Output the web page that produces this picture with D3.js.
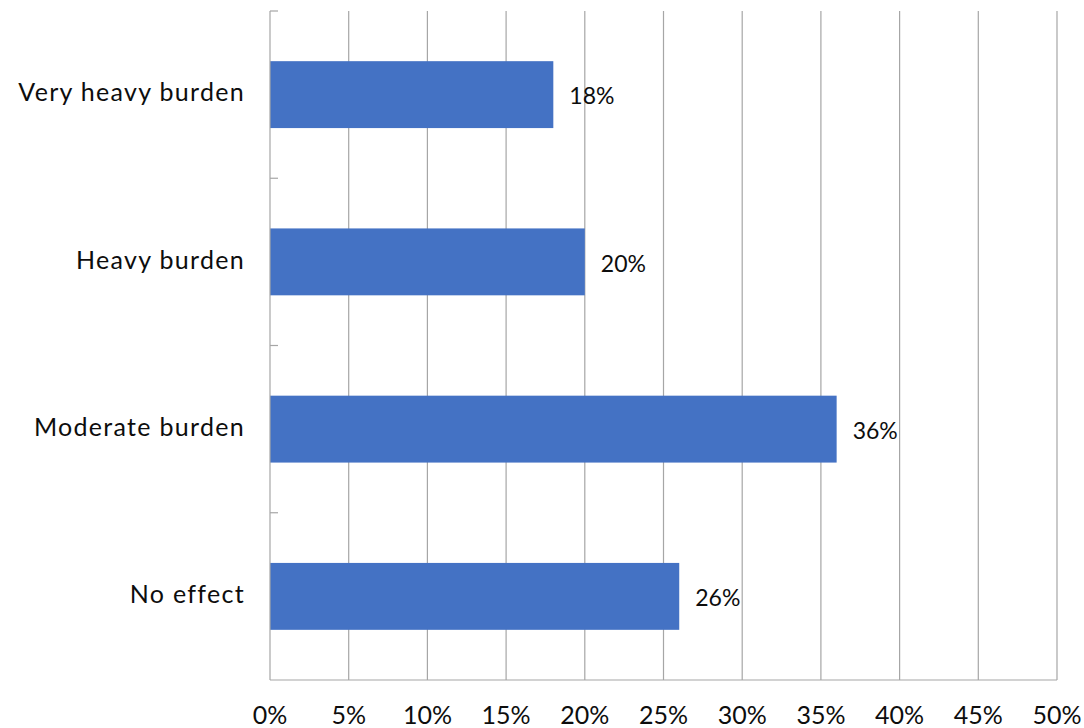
<!DOCTYPE html>
<html>
<head>
<meta charset="utf-8">
<script src="https://cdn.jsdelivr.net/npm/d3@7/dist/d3.min.js"></script>
<style>
  html, body { margin: 0; padding: 0; background: #fff; }
  svg { display: block; }
  text { font-family: Lato, "Open Sans", sans-serif; fill: #0d0d0d; }
</style>
</head>
<body>
<svg id="chart" width="1084" height="728"></svg>
<script>
// Survey responses: share of respondents per burden level
const categories = ["Very heavy burden", "Heavy burden", "Moderate burden", "No effect"];
const values = [0.18, 0.20, 0.36, 0.26];
const tickValues = [0, 0.05, 0.10, 0.15, 0.20, 0.25, 0.30, 0.35, 0.40, 0.45, 0.50];

const svg = d3.select("#chart");
const plot = { left: 270, right: 1057, top: 11, bottom: 680 };
const fontSize = 25;
const gridColor = "#a6a6a6";

const x = d3.scaleLinear().domain([0, 0.5]).range([plot.left, plot.right]);
const y = d3.scaleBand().domain(categories).range([plot.top, plot.bottom]).paddingInner(0.6).paddingOuter(0.3);
const fmt = d3.format(".0%");

// vertical gridlines
svg.append("g").selectAll("line").data(tickValues.slice(1)).join("line")
  .attr("x1", d => x(d)).attr("x2", d => x(d))
  .attr("y1", plot.top).attr("y2", plot.bottom)
  .attr("stroke", gridColor).attr("stroke-width", 1.2);

// bars
svg.append("g").selectAll("rect").data(categories).join("rect")
  .attr("x", x(0))
  .attr("y", d => y(d))
  .attr("width", (d, i) => x(values[i]) - x(0))
  .attr("height", y.bandwidth())
  .attr("fill", "#4472c4");

// category axis line with inward ticks at band boundaries
const bounds = [plot.top].concat(categories.map(c => y(c) - y.step() * y.paddingInner() / 2 + y.step()));
svg.append("line")
  .attr("x1", plot.left).attr("x2", plot.left)
  .attr("y1", plot.top).attr("y2", plot.bottom)
  .attr("stroke", gridColor).attr("stroke-width", 1.2);
svg.append("g").selectAll("line").data(bounds.slice(0, -1)).join("line")
  .attr("x1", plot.left).attr("x2", plot.left + 8)
  .attr("y1", d => d).attr("y2", d => d)
  .attr("stroke", gridColor).attr("stroke-width", 1.2);

// value axis baseline
svg.append("line")
  .attr("x1", plot.left).attr("x2", plot.right)
  .attr("y1", plot.bottom).attr("y2", plot.bottom)
  .attr("stroke", gridColor).attr("stroke-width", 1.2);

// value axis tick labels
svg.append("g").selectAll("text").data(tickValues).join("text")
  .attr("x", d => x(d)).attr("y", 724)
  .attr("text-anchor", "middle")
  .attr("font-size", fontSize)
  .text(d => fmt(d));

// category labels
svg.append("g").selectAll("text").data(categories).join("text")
  .attr("x", 245)
  .attr("y", d => y(d) + y.bandwidth() / 2)
  .attr("dy", "0.02em")
  .attr("text-anchor", "end")
  .attr("dominant-baseline", "middle")
  .attr("font-size", fontSize)
  .attr("letter-spacing", "1.3px")
  .text(d => d);

// data labels
svg.append("g").selectAll("text").data(categories).join("text")
  .attr("x", (d, i) => x(values[i]) + 16)
  .attr("y", d => y(d) + y.bandwidth() / 2 + 4)
  .attr("dominant-baseline", "middle")
  .attr("font-size", fontSize - 2)
  .text((d, i) => fmt(values[i]));
</script>
</body>
</html>
